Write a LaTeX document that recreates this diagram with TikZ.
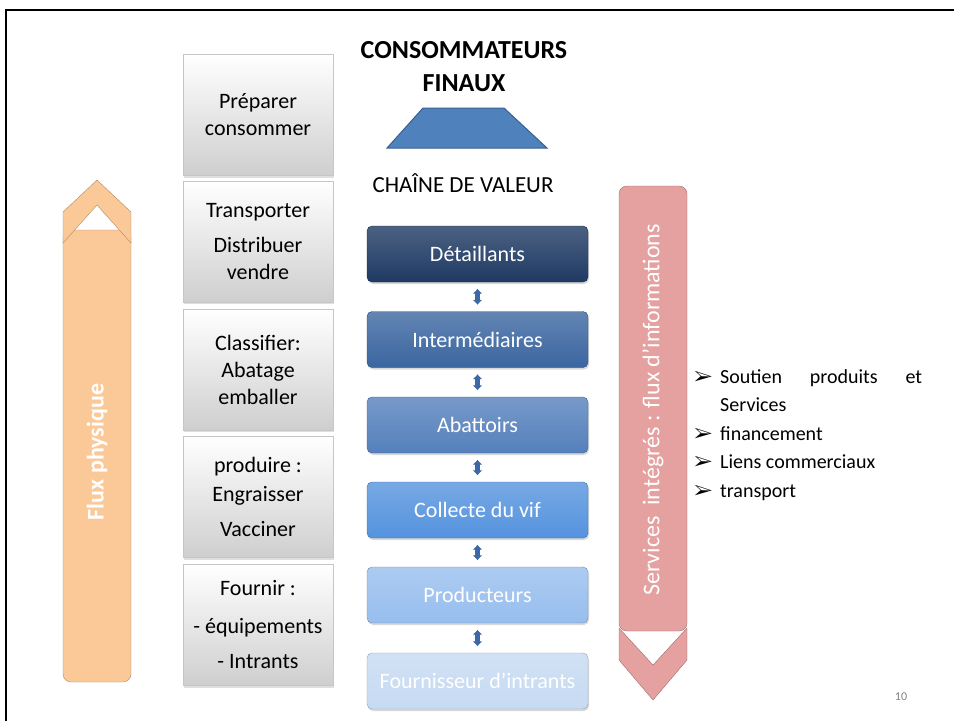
\documentclass[tikz,border=0pt]{standalone}
\usepackage{fontspec}
\setmainfont{Carlito}
\usepackage{pifont}
\usetikzlibrary{arrows.meta,shadows}

\definecolor{peche}{HTML}{FBC898}
\definecolor{rose}{HTML}{E5A0A0}
\definecolor{trapeze}{HTML}{4F81BD}
\definecolor{lienbleu}{HTML}{3D68A6}
\definecolor{cdet}{HTML}{1F3A63}
\definecolor{cint}{HTML}{3B66A0}
\definecolor{caba}{HTML}{5580BC}
\definecolor{ccol}{HTML}{5593DE}
\definecolor{cprod}{HTML}{97BEEE}
\definecolor{cfour}{HTML}{C6DAF2}

\tikzset{
  etape/.style={draw=gray!45, top color=white, bottom color=gray!38, minimum width=150pt, minimum height=121pt,
    align=center, inner sep=0pt, font=\fontsize{22}{27}\selectfont,
    drop shadow={opacity=0.25, shadow xshift=1pt, shadow yshift=-2pt}},
  maillon/.style={draw=#1!75!black, rounded corners=5pt, top color=#1!80!white, bottom color=#1,
    minimum width=221pt, minimum height=56pt, text=white, font=\fontsize{22}{27}\selectfont,
    drop shadow={opacity=0.3, shadow xshift=1pt, shadow yshift=-2pt}},
  lien/.style={{Latex[length=5pt,width=10pt]}-{Latex[length=5pt,width=10pt]}, line width=4.5pt,
    draw=lienbleu, shorten <=6.5pt, shorten >=6.5pt}
}
\newcommand{\fleche}{\makebox[27pt][l]{\hspace*{1pt}\fontsize{20}{20}\selectfont\ding{226}}}

\begin{document}
\begin{tikzpicture}[x=1pt,y=-1pt]
    \useasboundingbox (0,0) rectangle (954,721);
    \draw[line width=2.5pt] (6,721) -- (6,10) -- (954,10);

    \node[etape] (prep) at (258,115) {Préparer\\consommer};
    \node[etape] (transp) at (258,241.5) {Transporter\\[8pt]Distribuer\\vendre};
    \node[etape] (classif) at (258,369.5) {Classifier:\\Abatage\\emballer};
    \node[etape] (prodr) at (258,497) {produire :\\[2pt]Engraisser\\[8pt]Vacciner};
    \node[etape] (fourn) at (258,625) {Fournir :\\[11pt]- équipements\\[8pt]- Intrants};

    \node[font=\bfseries\fontsize{26}{33}\selectfont, align=center] (conso) at (464,67) {CONSOMMATEURS\\FINAUX};
    \filldraw[fill=trapeze, draw=trapeze!75!black, line width=1pt] (423,108) -- (504,108) -- (547,148) -- (387,148) -- cycle;
    \node[font=\fontsize{23}{27}\selectfont] (chaine) at (463,183) {CHAÎNE DE VALEUR};

    \node[maillon=cdet] (det) at (477.5,254) {Détaillants};
    \node[maillon=cint] (inter) at (477.5,339.5) {Intermédiaires};
    \node[maillon=caba] (abat) at (477.5,425) {Abattoirs};
    \node[maillon=ccol] (coll) at (477.5,510) {Collecte du vif};
    \node[maillon=cprod] (prod) at (477.5,595) {Producteurs};
    \node[maillon=cfour] (four) at (477.5,681) {Fournisseur d’intrants};
    \foreach \a/\b in {det/inter, inter/abat, abat/coll, coll/prod, prod/four}
        \draw[lien] (\a) -- (\b);

    \filldraw[fill=peche, draw=peche!70!black, rounded corners=8pt] (63,230) -- (63,682) -- (131,682) -- (131,230) -- cycle;
    \filldraw[fill=peche, draw=peche!70!black] (97,180) -- (131,212) -- (131,243) -- (97,205) -- (63,243) -- (63,212) -- cycle;
    \node[rotate=90, text=white, font=\bfseries\fontsize{24}{29}\selectfont] (flux) at (97,452) {Flux physique};

    \filldraw[fill=rose, draw=rose!70!black, rounded corners=8pt] (619,631) -- (619,186) -- (687,186) -- (687,631) -- cycle;
    \filldraw[fill=rose, draw=rose!70!black] (619,628) -- (653,665) -- (687,628) -- (687,660) -- (653,700) -- (619,660) -- cycle;
    \node[rotate=90, text=white, font=\fontsize{24}{29}\selectfont] (services) at (653,410) {Services\ \ intégrés : flux d’informations};

    \node[anchor=north west, align=left, inner sep=0pt, font=\fontsize{20}{28.5}\selectfont] (liste) at (693,369)
        {\fleche\makebox[202pt][s]{Soutien produits et}\\
         \hspace*{27pt}Services\\
         \fleche financement\\
         \fleche Liens commerciaux\\
         \fleche transport};

    \node[text=gray, font=\fontsize{12}{14}\selectfont] (page) at (901,697) {10};
\end{tikzpicture}
\end{document}
